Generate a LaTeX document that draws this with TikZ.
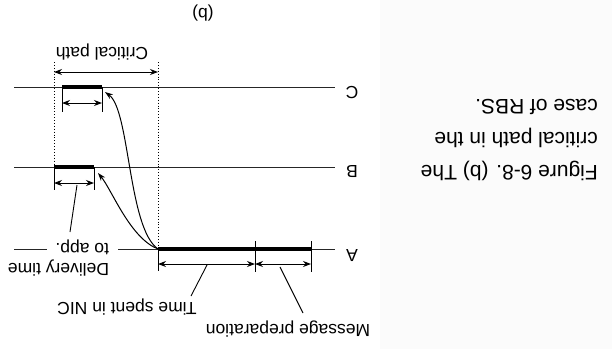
\documentclass[tikz,border=0pt]{standalone}
\usepackage{fontspec}
\setmainfont{Liberation Sans}
\usetikzlibrary{arrows.meta}
\begin{document}
\begin{tikzpicture}[x=1pt,y=-1pt,
  axis/.style={line width=1pt,draw=black!85},
  bar/.style={line width=4pt,line cap=butt},
  tick/.style={line width=1pt},
  dim/.style={line width=1pt,{Stealth[length=8pt,width=6pt]}-{Stealth[length=8pt,width=6pt]}},
  ptr/.style={line width=0.9pt},
  carrow/.style={line width=1pt,-{Stealth[length=8pt,width=5.5pt]}},
  lbl/.style={rotate=180,font=\fontsize{17.5}{20}\selectfont,inner sep=0pt,text=black},
  dots/.style={line width=0.9pt,dotted}]
\useasboundingbox (0,0) rectangle (612,349);
\fill[white] (0,0) rectangle (612,349);
\fill[black!1.5] (380,0) rectangle (612,349);
% coordinates
\coordinate (Cl) at (14,87);  \coordinate (Cr) at (335,87);
\coordinate (Bl) at (14,167); \coordinate (Br) at (335,167);
\coordinate (Al) at (14,249); \coordinate (Alx) at (47,249);
\coordinate (Arx) at (118,249); \coordinate (Ar) at (335,249);
\coordinate (c1) at (62,87);  \coordinate (c2) at (102,87);
\coordinate (b1) at (54,167); \coordinate (b2) at (94,167);
\coordinate (a1) at (158,249); \coordinate (a2) at (255,249); \coordinate (a3) at (311,249);
% time lines
\draw[axis] (Cl) -- (Cr);
\draw[axis] (Bl) -- (Br);
\draw[axis] (Al) -- (Alx);
\draw[axis] (Arx) -- (Ar);
% bars
\draw[bar] (c1) -- (c2);
\draw[bar] (b1) -- (b2);
\draw[bar] (a1) -- (a3);
% ticks
\coordinate (c1t) at (62,112); \coordinate (c2t) at (102,112);
\coordinate (b1t) at (54,190); \coordinate (b2t) at (94,190);
\coordinate (a1t) at (158,271); \coordinate (a2s) at (255,241); \coordinate (a2t) at (255,272);
\coordinate (a3s) at (311,241); \coordinate (a3t) at (311,272);
\draw[tick] (c1) -- (c1t); \draw[tick] (c2) -- (c2t);
\draw[tick] (b1) -- (b1t); \draw[tick] (b2) -- (b2t);
\draw[tick] (a1) -- (a1t); \draw[tick] (a2s) -- (a2t); \draw[tick] (a3s) -- (a3t);
% dotted guides
\coordinate (d1) at (54,62); \coordinate (d2) at (158,62);
\draw[dots] (d1) -- (b1);
\draw[dots] (d2) -- (a1);
% dimension arrows
\coordinate (k1) at (54,72); \coordinate (k2) at (158,72);
\draw[dim] (k1) -- (k2);
\coordinate (cd1) at (62,103); \coordinate (cd2) at (102,103);
\draw[dim] (cd1) -- (cd2);
\coordinate (bd1) at (54,183); \coordinate (bd2) at (94,183);
\draw[dim] (bd1) -- (bd2);
\coordinate (ad1) at (158,264); \coordinate (ad2) at (255,264); \coordinate (ad3) at (311,264);
\draw[dim] (ad1) -- (ad2);
\draw[dim] (ad2) -- (ad3);
% message curves
\coordinate (cend) at (105,92); \coordinate (bend) at (98,173);
\draw[carrow] (a1) .. controls (128,228) and (130,110) .. (cend);
\draw[carrow] (a1) .. controls (130,238) and (112,190) .. (bend);
% labels
\node[lbl] (lC) at (352,93) {C};
\node[lbl] (lB) at (352,172) {B};
\node[lbl] (lA) at (352,256) {A};
\node[lbl] (crit) at (102,52) {Critical path};
\node[lbl] (lb) at (203,13) {(b)};
\node[lbl,align=left] (deliv) at (58.5,258) {Delivery time\\to app.};
\node[lbl] (nic) at (127,307) {Time spent in NIC};
\node[lbl] (msg) at (288,329) {Message preparation};
\node[lbl,font=\fontsize{21}{33}\selectfont,align=left,anchor=west] (cap) at (598,140) {Figure 6-8. (b) The\\critical path in the\\case of RBS.};
% pointers
\coordinate (p1s) at (70,232); \coordinate (p1e) at (77,185);
\coordinate (p2s) at (191,296); \coordinate (p2e) at (207,265);
\coordinate (p3s) at (303,313); \coordinate (p3e) at (280,267);
\draw[ptr] (p1s) -- (p1e);
\draw[ptr] (p2s) -- (p2e);
\draw[ptr] (p3s) -- (p3e);
\end{tikzpicture}
\end{document}
